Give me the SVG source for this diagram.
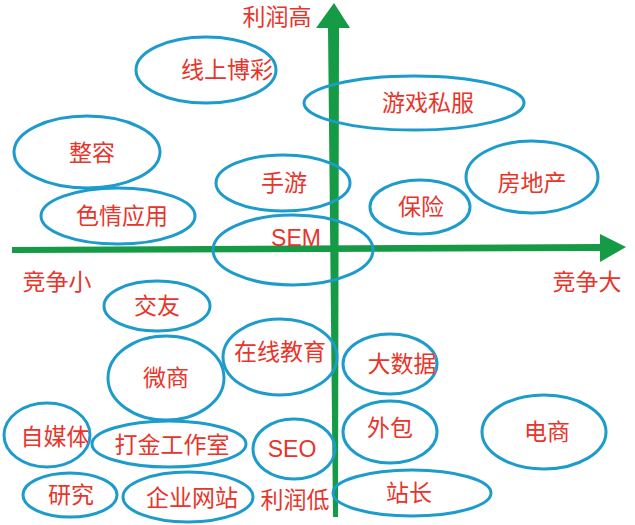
<svg xmlns="http://www.w3.org/2000/svg" width="635" height="525" viewBox="0 0 635 525">
<style>
.n{fill:none;stroke:#1d9ccc;stroke-width:3}
.t{fill:#e8352b;font-family:"Liberation Sans","Noto Sans CJK SC",sans-serif;font-size:23px;text-anchor:middle;dominant-baseline:central}
.ax{fill:#159a45}
</style>
<rect width="635" height="525" fill="#ffffff"/>
<g id="connectors">
<polygon class="ax" points="12,247 600,244 600,234 626,247 600,262 600,251 12,253"/>
<polygon class="ax" points="328,28 316,28 334,3 350,28 339,28 338,517 333,517"/>
</g>
<g id="axis-labels">
<text class="t" x="277" y="17">利润高</text>
<text class="t" x="57" y="282">竞争小</text>
<text class="t" x="587" y="282">竞争大</text>
<text class="t" x="295" y="500">利润低</text>
</g>
<g id="n1"><ellipse class="n" cx="206" cy="70" rx="70" ry="33"/><text class="t" x="227" y="70">线上博彩</text></g>
<g id="n2"><ellipse class="n" cx="414" cy="103" rx="110" ry="27"/><text class="t" x="428" y="103">游戏私服</text></g>
<g id="n3"><ellipse class="n" cx="87" cy="152" rx="73" ry="36"/><text class="t" x="92" y="153">整容</text></g>
<g id="n4"><ellipse class="n" cx="283" cy="183" rx="67" ry="28"/><text class="t" x="284" y="183">手游</text></g>
<g id="n5"><ellipse class="n" cx="420" cy="207" rx="50" ry="27"/><text class="t" x="421" y="207">保险</text></g>
<g id="n6"><ellipse class="n" cx="532" cy="177" rx="66" ry="36"/><text class="t" x="532" y="183">房地产</text></g>
<g id="n7"><ellipse class="n" cx="118" cy="216" rx="77" ry="28"/><text class="t" x="122" y="216">色情应用</text></g>
<g id="n8"><ellipse class="n" cx="293" cy="250" rx="80" ry="35"/><text class="t" x="296" y="238">SEM</text></g>
<g id="n9"><ellipse class="n" cx="157" cy="306" rx="53" ry="25"/><text class="t" x="157" y="306">交友</text></g>
<g id="n10"><ellipse class="n" cx="280" cy="357" rx="57" ry="38"/><text class="t" x="280" y="352">在线教育</text></g>
<g id="n11"><ellipse class="n" cx="166" cy="378" rx="58" ry="42"/><text class="t" x="166" y="378">微商</text></g>
<g id="n12"><ellipse class="n" cx="390" cy="364" rx="47" ry="30"/><text class="t" x="402" y="364">大数据</text></g>
<g id="n13"><ellipse class="n" cx="47" cy="435" rx="43" ry="32"/><text class="t" x="55" y="437">自媒体</text></g>
<g id="n14"><ellipse class="n" cx="169" cy="444" rx="77" ry="23"/><text class="t" x="172" y="445">打金工作室</text></g>
<g id="n15"><ellipse class="n" cx="294" cy="449" rx="41" ry="30"/><text class="t" x="292" y="449">SEO</text></g>
<g id="n16"><ellipse class="n" cx="70" cy="495" rx="47" ry="22"/><text class="t" x="71" y="495">研究</text></g>
<g id="n17"><ellipse class="n" cx="188" cy="497" rx="65" ry="25"/><text class="t" x="192" y="498">企业网站</text></g>
<g id="n18"><ellipse class="n" cx="390" cy="432" rx="47" ry="31"/><text class="t" x="390" y="428">外包</text></g>
<g id="n19"><ellipse class="n" cx="544" cy="432" rx="62" ry="37"/><text class="t" x="547" y="432">电商</text></g>
<g id="n20"><ellipse class="n" cx="412" cy="493" rx="79" ry="23"/><text class="t" x="409" y="493">站长</text></g>
</svg>
